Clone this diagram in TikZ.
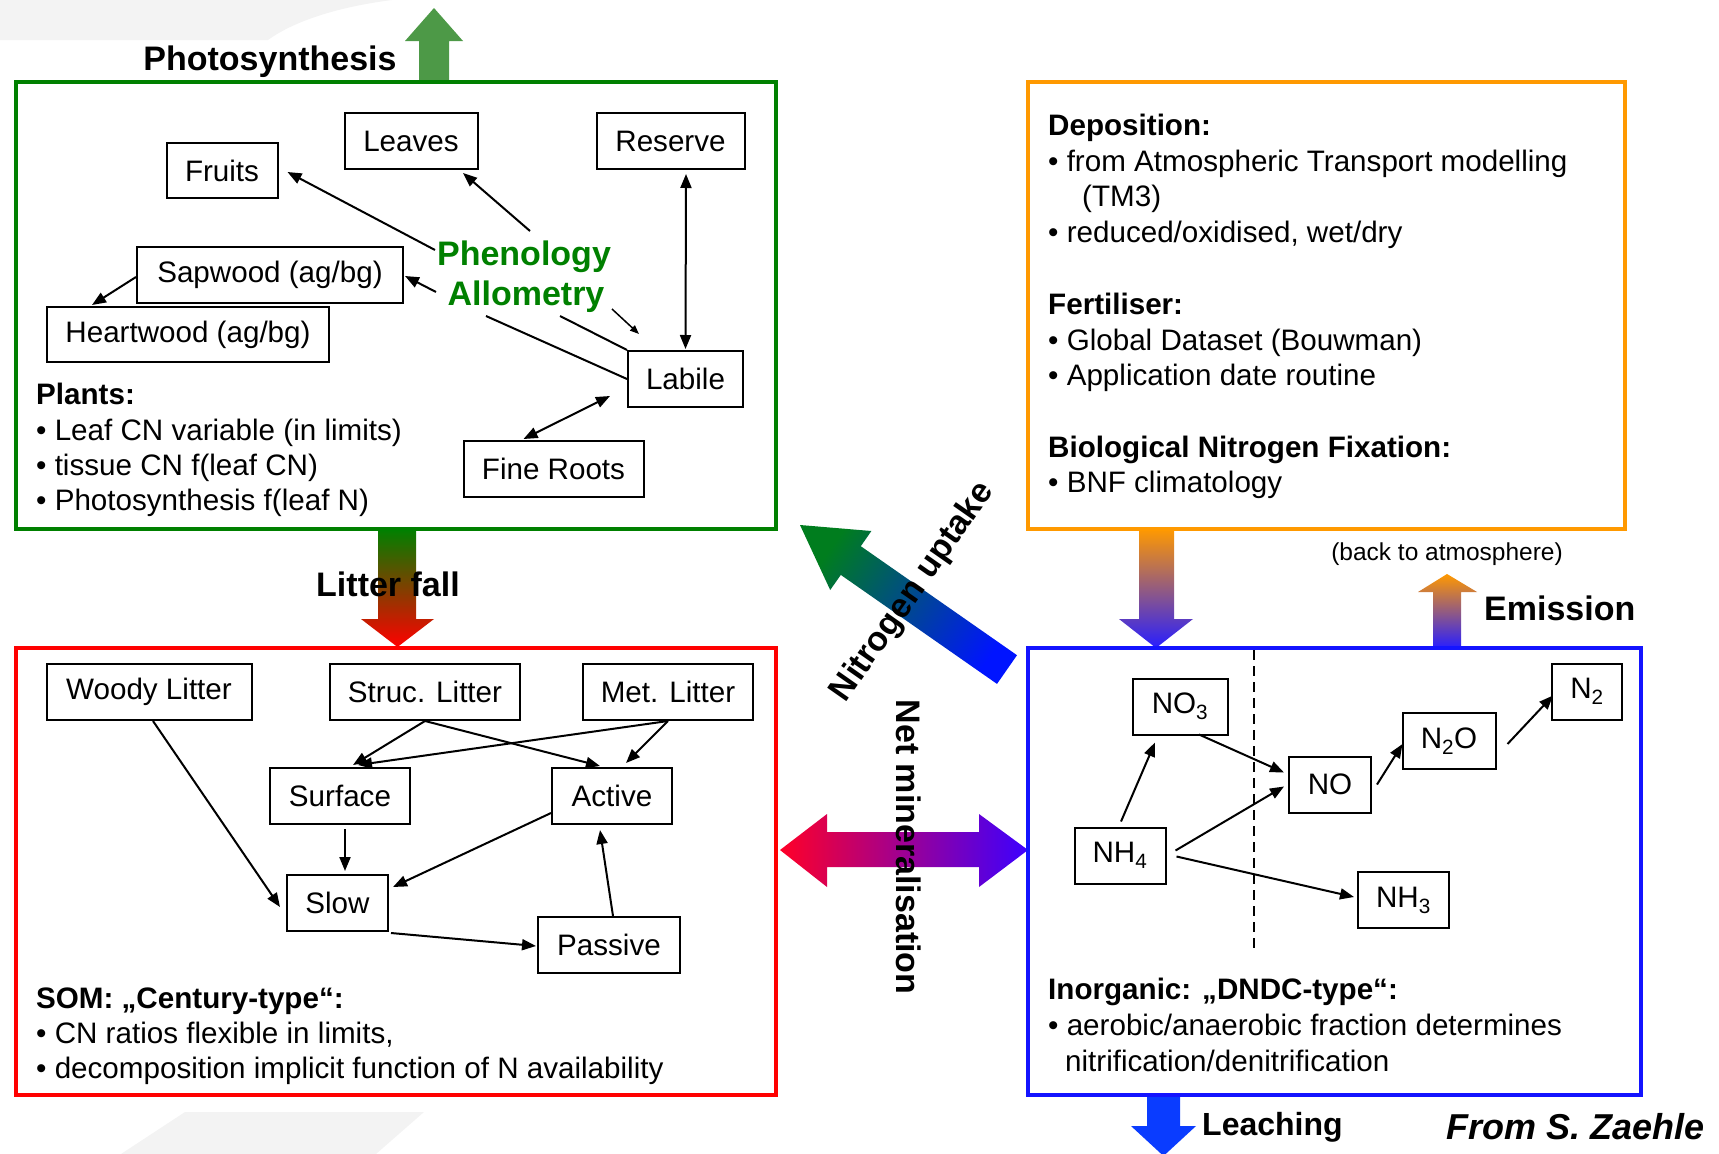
\documentclass[tikz,border=0pt]{standalone}
\usepackage{fontspec}
\setmainfont{Liberation Sans}
\usetikzlibrary{arrows.meta,calc}
\definecolor{pgreen}{RGB}{0,128,0}
\definecolor{phgreen}{RGB}{77,153,71}
\definecolor{sred}{RGB}{255,0,0}
\definecolor{dorange}{RGB}{255,153,0}
\definecolor{iblue}{RGB}{20,20,255}
\definecolor{leachblue}{RGB}{10,60,255}
\definecolor{mauve}{RGB}{210,125,160}
\definecolor{violetblue}{RGB}{40,30,255}
\definecolor{nmred}{RGB}{255,0,40}
\definecolor{nmmag}{RGB}{190,0,190}
\definecolor{nmblue}{RGB}{60,0,255}
\definecolor{nugreen}{RGB}{0,125,30}
\definecolor{nublue}{RGB}{0,20,255}
\definecolor{lfmid}{RGB}{170,85,0}
\definecolor{bggray}{RGB}{243,243,243}
\begin{document}
\begin{tikzpicture}[x=1pt,y=-1pt,
  box/.style={draw, line width=2pt, inner sep=0pt, minimum height=55pt, font=\fontsize{29.6}{35}\selectfont},
  arr/.style={line width=2pt, -{Triangle[length=14pt,width=11pt]}},
  darr/.style={line width=2pt, {Triangle[length=14pt,width=11pt]}-{Triangle[length=14pt,width=11pt]}},
  sarr/.style={line width=1.5pt, -{Triangle[length=9pt,width=7pt]}},
  plain/.style={line width=2pt},
  body/.style={anchor=base west, inner sep=0pt, font=\fontsize{29.6}{35}\selectfont},
  headtxt/.style={anchor=base west, inner sep=0pt, font=\fontsize{29.6}{35}\selectfont\bfseries},
  big/.style={inner sep=0pt, font=\fontsize{34}{40}\selectfont\bfseries},
  frame/.style={line width=4pt},
]
\useasboundingbox (0,0) rectangle (1719,1154);

% ---------- faint background ----------
\fill[bggray] (0,0) -- (392,0) .. controls (330,8) and (290,24) .. (268,40) -- (0,40) -- cycle;
\fill[bggray] (185,1112) -- (424,1112) -- (376,1154) -- (121,1154) -- cycle;

% ---------- big flow arrows ----------
% Photosynthesis
\fill[phgreen] (419,82) -- (419,41) -- (405,41) -- (434,8) -- (463,41) -- (449,41) -- (449,82) -- cycle;
% Litter fall
\shade[top color=pgreen, middle color=lfmid, bottom color=sred]
  (378,529) -- (378,619) -- (361,619) -- (397.5,647) -- (434,619) -- (416,619) -- (416,529) -- cycle;
% Deposition
\shade[top color=dorange, middle color=mauve, bottom color=violetblue]
  (1139,529) -- (1139,619) -- (1119,619) -- (1156,648) -- (1193,619) -- (1174,619) -- (1174,529) -- cycle;
% Emission
\shade[top color=dorange, middle color=mauve, bottom color=violetblue]
  (1433,648) -- (1433,592) -- (1418,592) -- (1447,574) -- (1477,592) -- (1461,592) -- (1461,648) -- cycle;
% Leaching
\fill[leachblue] (1147,1095) -- (1147,1126) -- (1131,1126) -- (1163.5,1156) -- (1196,1126) -- (1180,1126) -- (1180,1095) -- cycle;
% Net mineralisation
\shade[left color=nmred, middle color=nmmag, right color=nmblue]
  (780,850) -- (827,814) -- (827,832) -- (979,832) -- (979,814) -- (1028,850)
  -- (979,887) -- (979,867) -- (827,867) -- (827,887) -- cycle;
% Nitrogen uptake
\shade[top color=nugreen, bottom color=nublue, shading angle=55]
  (800,525) -- (871.4,531) -- (860.8,546.2) -- (1017,655.2) -- (997,683.9)
  -- (840.8,574.9) -- (830.2,590) -- cycle;

% ---------- frames ----------
\draw[frame, pgreen] (16,82) rectangle (776,529);
\draw[frame, sred] (16,648) rectangle (776,1095);
\draw[frame, dorange] (1028,82) rectangle (1625,529);
\draw[frame, iblue] (1028,648) rectangle (1641,1095);

% ---------- flow labels ----------
\node[big, anchor=base] (tphoto) at (270,70) {Photosynthesis};
\node[big, anchor=base] (tlitter) at (388,596) {Litter fall};
\node[big, anchor=base west] (temis) at (1484,620) {Emission};
\node[inner sep=0pt, anchor=base, font=\fontsize{24.5}{28}\selectfont] (tback) at (1447,560) {(back to atmosphere)};
\node[inner sep=0pt, anchor=base west, font=\fontsize{32}{38}\selectfont\bfseries] (tleach) at (1202,1135) {Leaching};
\node[inner sep=0pt, anchor=base west, font=\fontsize{36}{42}\selectfont\bfseries\itshape] (tfrom) at (1446,1139) {From S. Zaehle};
\node[big, rotate=-90] (tnetmin) at (909,847) {Net mineralisation};
\node[big, rotate=55] (tnup) at (913,592) {Nitrogen uptake};

% ---------- plants ----------
\node[box, minimum width=111pt] (fruits) at (222,170.5) {Fruits};
\node[box, minimum width=133pt, minimum height=56pt] (leaves) at (411,141) {Leaves};
\node[box, minimum width=148pt, minimum height=56pt] (reserve) at (670.5,141) {Reserve};
\node[box, minimum width=266pt, minimum height=56pt] (sapwood) at (270,275) {Sapwood (ag/bg)};
\node[box, minimum width=282pt] (heartwood) at (188,334.5) {Heartwood (ag/bg)};
\node[box, minimum width=115pt, minimum height=56pt] (labile) at (685.5,379) {Labile};
\node[box, minimum width=180pt, minimum height=56pt] (fineroots) at (553.5,469) {Fine Roots};
\node[big, text=pgreen, anchor=base] (phen) at (524,265) {Phenology};
\node[big, text=pgreen, anchor=base] (allo) at (526,305) {Allometry};

\coordinate (pf) at (435,250);
\coordinate (plv) at (530,231);
\coordinate (psw) at (436,292);
\coordinate (pa) at (612,309);
\coordinate (pl1) at (560,316);
\coordinate (pl2) at (486,316);

\draw[arr] (pf) -- ($(fruits.east)+(9,1.5)$);
\draw[arr] (plv) -- ($(leaves.south)+(52,3)$);
\draw[arr] (psw) -- ($(sapwood.east)+(1,1)$);
\draw[arr] ($(sapwood.west)+(0,2)$) -- ($(heartwood.north west)+(46,-1)$);
\draw[sarr] (pa) -- ($(labile.north west)+(12,-16)$);
\draw[plain] (labile.north west) -- (pl1);
\draw[plain] (labile.west) -- (pl2);
\draw[darr] ($(reserve.south)+(15.5,4)$) -- ($(labile.north)+(0,-1)$);
\draw[darr] ($(labile.west)+(-17,17)$) -- ($(fineroots.north)+(-30,-1)$);

\node[headtxt] (plh) at (36,404) {Plants:};
\node[body] (pla) at (36,440) {• Leaf CN variable (in limits)};
\node[body] (plb) at (36,475) {• tissue CN f(leaf CN)};
\node[body] (plc) at (36,510) {• Photosynthesis f(leaf N)};

% ---------- SOM ----------
\node[box, minimum width=205pt, minimum height=56pt] (woody) at (149,692) {Woody Litter};
\node[box, minimum width=190pt, minimum height=56pt] (struc) at (425,692) {Struc. Litter};
\node[box, minimum width=170pt, minimum height=56pt] (met) at (668,692) {Met. Litter};
\node[box, minimum width=140pt, minimum height=56pt] (surface) at (340,796) {Surface};
\node[box, minimum width=120pt, minimum height=56pt] (active) at (612,796) {Active};
\node[box, minimum width=101pt, minimum height=56pt] (slow) at (337.5,903) {Slow};
\node[box, minimum width=142pt, minimum height=56pt] (passive) at (609,945) {Passive};

\draw[arr] ($(woody.south)+(4,0)$) -- ($(slow.west)+(-6,4)$);
\draw[arr] (struc.south) -- ($(surface.north)+(13,-2)$);
\draw[arr] (struc.south) -- ($(active.north)+(-12,-1)$);
\draw[arr] (met.south) -- ($(surface.north)+(18,-2)$);
\draw[arr] (met.south) -- ($(active.north)+(14,-4)$);
\draw[arr] ($(surface.south)+(5,4)$) -- ($(slow.north)+(7.5,-3)$);
\draw[arr] ($(active.west)+(0,17)$) -- ($(slow.east)+(4,-16)$);
\draw[arr] ($(passive.north)+(4,0)$) -- ($(active.south)+(-12,5)$);
\draw[arr] ($(slow.south east)+(2,1)$) -- ($(passive.west)+(-1,1)$);

\node[headtxt] (somh) at (36,1008) {SOM: „Century-type“:};
\node[body] (soma) at (36,1043) {• CN ratios flexible in limits,};
\node[body] (somb) at (36,1078) {• decomposition implicit function of N availability};

% ---------- deposition text ----------
\node[headtxt] (deph) at (1048,135) {Deposition:};
\node[body] (depa) at (1048,171) {• from Atmospheric Transport modelling};
\node[body] (depb) at (1082,206) {(TM3)};
\node[body] (depc) at (1048,242) {• reduced/oxidised, wet/dry};
\node[headtxt] (ferh) at (1048,314) {Fertiliser:};
\node[body] (fera) at (1048,350) {• Global Dataset (Bouwman)};
\node[body] (ferb) at (1048,385) {• Application date routine};
\node[headtxt] (bnfh) at (1048,457) {Biological Nitrogen Fixation:};
\node[body] (bnfa) at (1048,492) {• BNF climatology};

% ---------- inorganic ----------
\node[box, minimum width=95pt, minimum height=56pt] (no3) at (1180,706.5) {NO\textsubscript{3}};
\node[box, minimum width=91pt, minimum height=56pt] (nh4) at (1120,855.5) {NH\textsubscript{4}};
\node[box, minimum width=82pt, minimum height=56pt] (no) at (1330,784.5) {NO};
\node[box, minimum width=93pt, minimum height=56pt] (n2o) at (1449,741) {N\textsubscript{2}O};
\node[box, minimum width=70pt, minimum height=56pt] (n2) at (1587,691.5) {N\textsubscript{2}};
\node[box, minimum width=91pt, minimum height=56pt] (nh3) at (1403.5,900) {NH\textsubscript{3}};

\coordinate (dtop) at (1254,650);
\coordinate (dbot) at (1254,953);
\draw[line width=2pt, dash pattern=on 10pt off 6pt] (dtop) -- (dbot);

\draw[arr] ($(nh4.north)+(1,-5)$) -- ($(no3.south)+(-25,7)$);
\draw[arr] ($(no3.south)+(19,-1)$) -- ($(no.west)+(-4,-12)$);
\draw[arr] ($(nh4.east)+(9,-5)$) -- ($(no.west)+(-4,2)$);
\draw[arr] ($(nh4.east)+(10,1)$) -- ($(nh3.west)+(-3,-3)$);
\draw[arr] ($(no.east)+(5,0)$) -- ($(n2o.west)+(1,3)$);
\draw[arr] ($(n2o.east)+(11,3)$) -- ($(n2.west)+(2,4)$);

\node[headtxt] (inh) at (1048,999) {Inorganic: „DNDC-type“:};
\node[body] (ina) at (1048,1035) {• aerobic/anaerobic fraction determines};
\node[body] (inb) at (1065,1071) {nitrification/denitrification};
\end{tikzpicture}
\end{document}
